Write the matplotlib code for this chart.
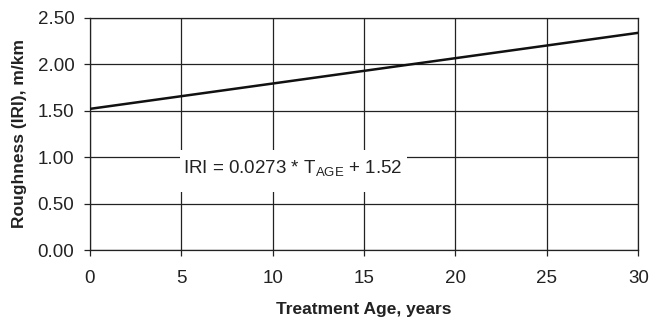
import matplotlib.pyplot as plt
from matplotlib.patches import Rectangle

plt.rcParams['font.family'] = ['Liberation Sans', 'DejaVu Sans']
plt.rcParams['mathtext.fontset'] = 'custom'
plt.rcParams['mathtext.rm'] = 'Liberation Sans'

# IRI regression line: IRI = 0.0273 * T_AGE + 1.52
t_age = [0, 30]
iri = [1.52, 0.0273 * 30 + 1.52]
x_ticks = [0, 5, 10, 15, 20, 25, 30]
y_ticks = [0.0, 0.5, 1.0, 1.5, 2.0, 2.5]

fig = plt.figure(figsize=(6.5, 3.19), dpi=100)
ax = fig.add_axes([0.138, 0.216, 0.844, 0.728])

ax.plot(t_age, iri, color='#111111', linewidth=1.8, zorder=3)

ax.set_xlim(0, 30)
ax.set_ylim(0, 2.5)
ax.set_xticks(x_ticks)
ax.set_yticks(y_ticks)
ax.set_yticklabels(['%.2f' % v for v in y_ticks])
ax.grid(True, color='#222222', linewidth=0.9)
ax.set_axisbelow(True)
for s in ax.spines.values():
    s.set_color('#222222')
    s.set_linewidth(0.9)
ax.tick_params(axis='both', labelsize=13.5, colors='#222222', length=4, width=0.9)
ax.tick_params(axis='x', pad=10)
ax.tick_params(axis='y', pad=7)

ax.set_xlabel('Treatment Age, years', fontsize=12.5, fontweight='bold', labelpad=11, color='#222222')
ax.set_ylabel('Roughness (IRI), m/km', fontsize=12.5, fontweight='bold', labelpad=8, color='#222222')

# white box behind the equation hides the grid
ax.add_patch(Rectangle((4.93, 0.625), 12.42, 0.453, facecolor='white',
                       edgecolor='none', zorder=2.5))
ax.text(11.08, 0.88, r'IRI = 0.0273 * T$_{\mathrm{AGE}}$ + 1.52', fontsize=13.5,
        ha='center', va='center', color='#222222', zorder=4)

fig.savefig('out.png', dpi=100)
